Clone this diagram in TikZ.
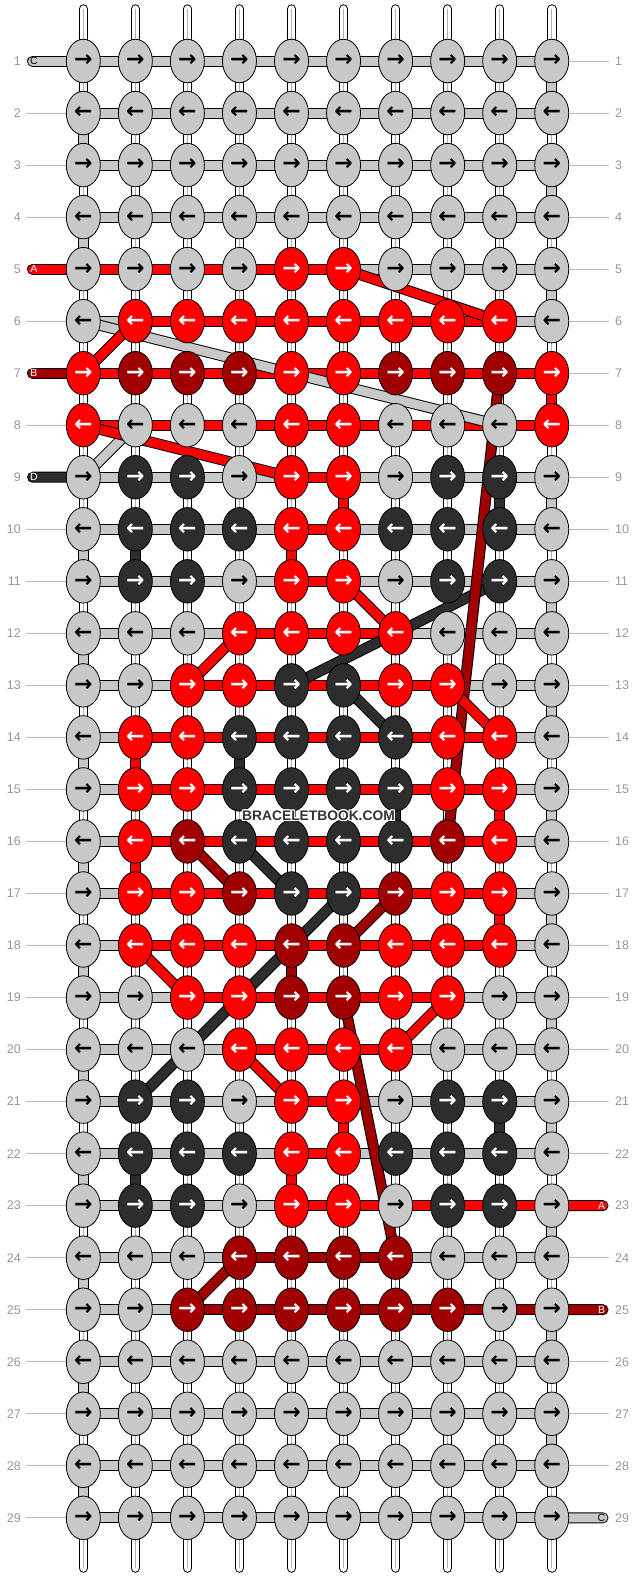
\documentclass[tikz,border=0pt]{standalone}
\usepackage{fontspec}
\setmainfont{Liberation Sans}
\newfontfamily\arrowfont{DejaVu Sans}
\usetikzlibrary{shapes.geometric}
\pgfdeclarelayer{warps}
\pgfdeclarelayer{bars}
\pgfdeclarelayer{diags}
\pgfsetlayers{warps,bars,diags,main}
\definecolor{cg}{RGB}{200,200,200}
\definecolor{cr}{RGB}{255,0,0}
\definecolor{cd}{RGB}{160,0,0}
\definecolor{ck}{RGB}{45,45,45}
\definecolor{tg}{RGB}{0,0,0}
\definecolor{tr}{RGB}{255,255,255}
\definecolor{td}{RGB}{255,255,255}
\definecolor{tk}{RGB}{255,255,255}
\definecolor{numgray}{RGB}{150,150,150}
\definecolor{linegray}{RGB}{185,185,185}
\definecolor{warpgray}{RGB}{175,175,175}
\definecolor{wmark}{RGB}{51,51,51}
\newcommand\wmhalo[1]{\leavevmode
\rlap{\color{white}\raisebox{1pt}{#1}}\rlap{\color{white}\raisebox{-1pt}{#1}}%
\rlap{\color{white}\hspace*{1pt}#1}\rlap{\color{white}\hspace*{-1pt}#1}%
\rlap{\color{white}\hspace*{1pt}\raisebox{1pt}{#1}}\rlap{\color{white}\hspace*{-1pt}\raisebox{1pt}{#1}}%
\rlap{\color{white}\hspace*{1pt}\raisebox{-1pt}{#1}}\rlap{\color{white}\hspace*{-1pt}\raisebox{-1pt}{#1}}#1}
\tikzset{
  knot/.style={ellipse, draw=black, line width=0.8pt, fill=c#1, text=t#1,
    minimum width=34pt, minimum height=43.5pt, inner sep=0pt,
    font=\arrowfont\bfseries\fontsize{22}{22}\selectfont},
  thr/.style={draw=black, line width=1pt, double=c#1, double distance=9pt},
  capthr/.style={thr=#1, line cap=round},
  warp/.style={draw=black, line width=1pt, double=white, double distance=7.5pt, line cap=round},
  warpmid/.style={draw=warpgray, line width=1pt},
  rownum/.style={text=numgray, font=\fontsize{12.5}{12.5}\selectfont, inner sep=0pt},
  rowline/.style={draw=linegray, line width=0.8pt},
  caplabel/.style={font=\fontsize{10.5}{10.5}\selectfont, inner sep=0pt},
}
\begin{document}
\begin{tikzpicture}[x=1pt, y=-1pt]
\useasboundingbox (0,0) rectangle (636,1580);
% knots
\foreach \r/\za/\zb/\zc/\zd/\ze/\zf/\zg/\zh/\zi/\zj in {
1/g/g/g/g/g/g/g/g/g/g, 2/g/g/g/g/g/g/g/g/g/g, 3/g/g/g/g/g/g/g/g/g/g, 4/g/g/g/g/g/g/g/g/g/g,
5/g/g/g/g/r/r/g/g/g/g, 6/g/r/r/r/r/r/r/r/r/g, 7/r/d/d/d/r/r/d/d/d/r, 8/r/g/g/g/r/r/g/g/g/r,
9/g/k/k/g/r/r/g/k/k/g, 10/g/k/k/k/r/r/k/k/k/g, 11/g/k/k/g/r/r/g/k/k/g, 12/g/g/g/r/r/r/r/g/g/g,
13/g/g/r/r/k/k/r/r/g/g, 14/g/r/r/k/k/k/k/r/r/g, 15/g/r/r/k/k/k/k/r/r/g, 16/g/r/d/k/k/k/k/d/r/g,
17/g/r/r/d/k/k/d/r/r/g, 18/g/r/r/r/d/d/r/r/r/g, 19/g/g/r/r/d/d/r/r/g/g, 20/g/g/g/r/r/r/r/g/g/g,
21/g/k/k/g/r/r/g/k/k/g, 22/g/k/k/k/r/r/k/k/k/g, 23/g/k/k/g/r/r/g/k/k/g, 24/g/g/g/d/d/d/d/g/g/g,
25/g/g/d/d/d/d/d/d/g/g, 26/g/g/g/g/g/g/g/g/g/g, 27/g/g/g/g/g/g/g/g/g/g, 28/g/g/g/g/g/g/g/g/g/g,
29/g/g/g/g/g/g/g/g/g/g}{
  \foreach \cl/\cc in {1/\za,2/\zb,3/\zc,4/\zd,5/\ze,6/\zf,7/\zg,8/\zh,9/\zi,10/\zj}{
    \node[knot=\cc] (k-\r-\cl) at ({83.3+(\cl-1)*52.05},{61+(\r-1)*52.03}) {\ifodd\r →\else ←\fi};
  }
}
% warps
\begin{pgfonlayer}{warps}
\foreach \cl in {1,...,10}{
  \coordinate (wt-\cl) at ({83.3+(\cl-1)*52.05},9);
  \coordinate (wb-\cl) at ({83.3+(\cl-1)*52.05},1568);
  \draw[warp] (wt-\cl) -- (wb-\cl);
  \draw[warpmid] (wt-\cl) -- (wb-\cl);
}
\end{pgfonlayer}
% horizontal bars, caps, row lines
\begin{pgfonlayer}{bars}
\foreach \r/\qa/\qb/\qc/\qd/\qe/\qf/\qg/\qh/\qi in {
1/g/g/g/g/g/g/g/g/g, 2/g/g/g/g/g/g/g/g/g, 3/g/g/g/g/g/g/g/g/g, 4/g/g/g/g/g/g/g/g/g,
5/r/r/r/r/r/g/g/g/g, 6/g/r/r/r/r/r/r/r/g, 7/r/r/r/r/r/r/r/r/r, 8/r/r/r/r/r/r/r/r/r,
9/g/g/g/g/r/g/g/g/g, 10/g/g/g/g/r/g/g/g/g, 11/g/g/g/g/r/g/g/g/g, 12/g/g/g/r/r/r/g/g/g,
13/g/g/r/r/r/r/r/g/g, 14/g/r/r/r/r/r/r/r/g, 15/g/r/r/r/r/r/r/r/g, 16/g/r/r/r/r/r/r/r/g,
17/g/r/r/r/r/r/r/r/g, 18/g/r/r/r/r/r/r/r/g, 19/g/g/r/r/r/r/r/g/g, 20/g/g/g/r/r/r/g/g/g,
21/g/g/g/g/r/g/g/g/g, 22/g/g/g/g/r/g/g/g/g, 23/g/g/g/g/r/r/r/r/r, 24/g/g/g/d/d/d/g/g/g,
25/g/g/d/d/d/d/d/d/d, 26/g/g/g/g/g/g/g/g/g, 27/g/g/g/g/g/g/g/g/g, 28/g/g/g/g/g/g/g/g/g,
29/g/g/g/g/g/g/g/g/g}{
  \foreach \cl/\cc in {1/\qa,2/\qb,3/\qc,4/\qd,5/\qe,6/\qf,7/\qg,8/\qh,9/\qi}{
    \pgfmathtruncatemacro\cn{\cl+1}
    \draw[thr=\cc] (k-\r-\cl.center) -- (k-\r-\cn.center);
  }
}
% thread ends
\coordinate (Cin) at (32.5,61);
\coordinate (Ain) at (32.5,269.12);
\coordinate (Bin) at (32.5,373.18);
\coordinate (Din) at (32.5,477.24);
\coordinate (Aout) at (603,1205.66);
\coordinate (Bout) at (603,1309.72);
\coordinate (Cout) at (603,1517.84);
\draw[capthr=g] (Cin) -- (k-1-1.center);
\draw[capthr=r] (Ain) -- (k-5-1.center);
\draw[capthr=d] (Bin) -- (k-7-1.center);
\draw[capthr=k] (Din) -- (k-9-1.center);
\draw[capthr=r] (k-23-10.center) -- (Aout);
\draw[capthr=d] (k-25-10.center) -- (Bout);
\draw[capthr=g] (k-29-10.center) -- (Cout);
% row guide lines
\foreach \r in {2,3,4,6,8,10,11,...,29}{
  \coordinate (la-\r) at (26,{61+(\r-1)*52.03});
  \draw[rowline] (la-\r) -- (k-\r-1.center);
}
\foreach \r in {1,2,...,22,24,26,27,28}{
  \coordinate (ra-\r) at (609,{61+(\r-1)*52.03});
  \draw[rowline] (k-\r-10.center) -- (ra-\r);
}
\end{pgfonlayer}
% threads between rows
\begin{pgfonlayer}{diags}
% D (dark)
\foreach \ra/\ca/\rb/\cb in {9/9/10/9, 10/2/11/2, 11/9/13/5, 13/6/14/7, 14/4/15/4, 15/7/16/7,
  16/4/17/5, 17/6/21/2, 21/9/22/9, 22/2/23/2}{
  \draw[thr=k, line cap=round] (k-\ra-\ca.center) -- (k-\rb-\cb.center);
}
% C (gray)
\foreach \ra/\ca/\rb/\cb in {1/10/2/10, 2/1/3/1, 3/10/4/10, 4/1/5/1, 5/10/6/10, 6/1/8/9, 8/2/9/1}{
  \draw[thr=g, line cap=round] (k-\ra-\ca.center) -- (k-\rb-\cb.center);
}
\foreach \r in {9,11,...,27}{
  \pgfmathtruncatemacro\rn{\r+1}
  \draw[thr=g] (k-\r-10.center) -- (k-\rn-10.center);
}
\foreach \r in {10,12,...,28}{
  \pgfmathtruncatemacro\rn{\r+1}
  \draw[thr=g] (k-\r-1.center) -- (k-\rn-1.center);
}
% B (dark red)
\foreach \ra/\ca/\rb/\cb in {7/9/16/8, 16/3/17/4, 17/7/18/6, 18/5/19/5, 19/6/24/7, 24/4/25/3}{
  \draw[thr=d, line cap=round] (k-\ra-\ca.center) -- (k-\rb-\cb.center);
}
% A (red)
\foreach \ra/\ca/\rb/\cb in {5/6/6/9, 6/2/7/1, 7/10/8/10, 8/1/9/5, 9/6/10/6, 10/5/11/5, 11/6/12/7,
  12/4/13/3, 13/8/14/9, 14/2/15/2, 15/9/16/9, 16/2/17/2, 17/9/18/9, 18/2/19/3, 19/8/20/7,
  20/4/21/5, 21/6/22/6, 22/5/23/5}{
  \draw[thr=r, line cap=round] (k-\ra-\ca.center) -- (k-\rb-\cb.center);
}
\end{pgfonlayer}
% row numbers
\foreach \r in {1,...,29}{
  \node[rownum, anchor=east] (ln-\r) at (21,{61+(\r-1)*52.03}) {\r};
  \node[rownum, anchor=west] (rn-\r) at (615,{61+(\r-1)*52.03}) {\r};
}
% thread end labels
\node[caplabel, text=black] (lab-Cin) at (34,61) {C};
\node[caplabel, text=white] (lab-Ain) at (34,269.12) {A};
\node[caplabel, text=white] (lab-Bin) at (34,373.18) {B};
\node[caplabel, text=white] (lab-Din) at (34,477.24) {D};
\node[caplabel, text=white] (lab-Aout) at (601.5,1205.66) {A};
\node[caplabel, text=white] (lab-Bout) at (601.5,1309.72) {B};
\node[caplabel, text=black] (lab-Cout) at (601.5,1517.84) {C};
% watermark
\node[font=\bfseries\fontsize{13.8}{14}\selectfont, text=wmark, inner sep=0pt] (wm) at (318.5,815.5) {\wmhalo{BRACELETBOOK.COM}};
\end{tikzpicture}
\end{document}
